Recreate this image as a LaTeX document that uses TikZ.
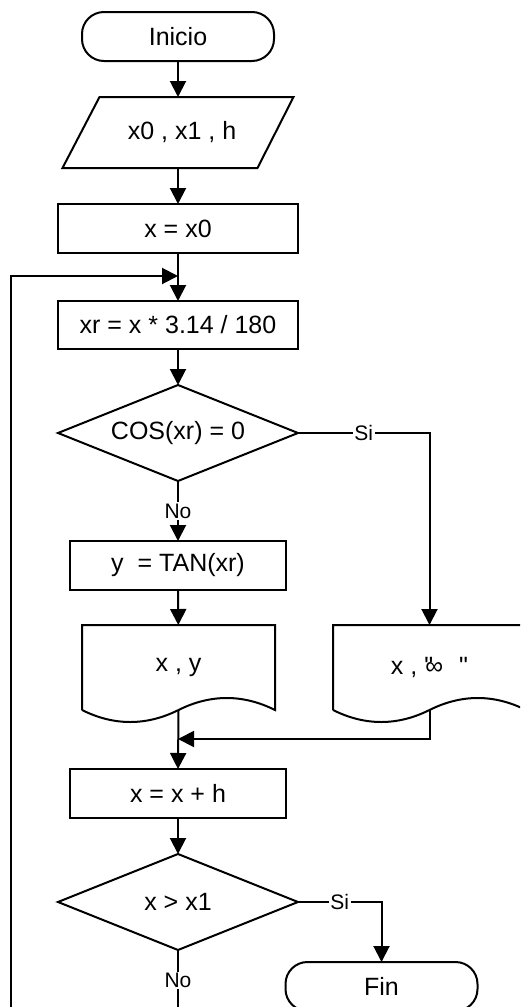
\documentclass[tikz,border=0pt]{standalone}
\usepackage{fontspec}
\setmainfont{Liberation Sans}
\newfontfamily\plainsans{Liberation Sans}
\usetikzlibrary{shapes.geometric,arrows.meta}
\begin{document}
\begin{tikzpicture}[x=1pt,y=-1pt,line width=2pt,
  base/.style={line width=2pt,font=\fontsize{25}{30}\selectfont,inner sep=0pt,outer sep=0pt},
  proc/.style={base,draw,rectangle,minimum width=240pt,minimum height=49pt},
  term/.style={base,draw,rectangle,rounded corners=22pt,minimum width=192pt,minimum height=49pt},
  iobox/.style={base,rectangle,minimum width=229pt,minimum height=71pt},
  decision/.style={base,draw,diamond,aspect=2.5,minimum width=240pt,minimum height=96pt},
  docbox/.style={base,rectangle,minimum width=193pt,minimum height=85pt},
  arr/.style={-{Triangle[length=16pt,width=16pt]}},
  lbl/.style={fill=white,inner sep=1.5pt,font=\fontsize{21}{24}\selectfont}
]
\useasboundingbox (0,0) rectangle (520,1007);
\clip (0,0) rectangle (520,1007);

\node[term] (inicio) at (178,36.5) {Inicio};
\node[iobox] (datos) at (178,132.5) {\hspace{8pt}x0 , x1 , h};
\node[proc] (x0) at (178,228.5) {x = x0};
\node[proc,minimum height=48pt] (xr) at (178,325) {xr = x * 3.14 / 180};
\node[decision] (d1) at (178,433) {COS(xr) = 0};
\node[proc,minimum width=216pt] (tan) at (178,565.5) {y\ \ = TAN(xr)};
\node[docbox] (docl) at (178.5,667.5) {x , y};
\node[docbox] (docr) at (429.5,667.5) {x , \rlap{\plainsans"}\kern1pt ∞\hspace{16pt}{\plainsans"}};
\node[proc,minimum width=216pt] (xh) at (178,793.5) {x = x + h};
\node[decision] (d2) at (178,902) {x > x1};
\node[term] (fin) at (381.5,986.5) {Fin};

\draw ([xshift=36pt]datos.north west) -- ([xshift=1pt]datos.north east)
  -- ([xshift=-35pt]datos.south east) -- ([xshift=-1pt]datos.south west) -- cycle;
\draw (docl.south west) -- (docl.north west) -- (docl.north east) -- (docl.south east)
  .. controls +(-32,-16) and +(32,-16) .. (docl.south)
  .. controls +(-32,16) and +(32,16) .. (docl.south west);
\draw (docr.south west) -- (docr.north west) -- (docr.north east) -- (docr.south east)
  .. controls +(-32,-16) and +(32,-16) .. (docr.south)
  .. controls +(-32,16) and +(32,16) .. (docr.south west);

\coordinate (join1) at (178,276);
\coordinate (lefttop) at (11,276);
\coordinate (leftbot) at (11,1040);
\coordinate (bot) at (178,1040);
\coordinate (join2) at (178,739);

\draw[arr] (inicio) -- (datos.north);
\draw[arr] (datos.south) -- (x0);
\draw[arr] (x0) -- (xr);
\draw[arr] (xr) -- (d1);
\draw[arr] (d1.east) -| node[lbl,pos=0.25] {Si} (docr.north);
\draw[arr] (d1.south) -- node[lbl] {No} (tan.north);
\draw[arr] (tan) -- (docl);
\draw[arr] (docl.south) -- (xh.north);
\draw[arr] (docr.south) |- (join2);
\draw[arr] (xh) -- (d2);
\draw[arr] (d2.east) -| node[lbl,pos=0.25] {Si} (fin.north);
\draw[arr] (d2.south) -- node[lbl,pos=0.34] {No} (bot) -- (leftbot) -- (lefttop) -- (join1);
\end{tikzpicture}
\end{document}
